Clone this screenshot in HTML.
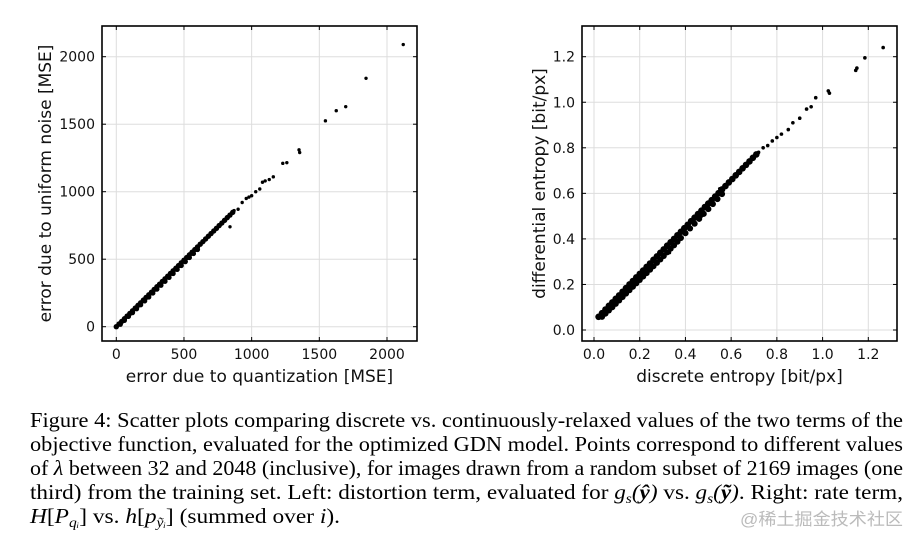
<!DOCTYPE html>
<html><head><meta charset="utf-8"><style>
html,body{margin:0;padding:0;background:#fff;}
svg{display:block;}
.tk{font-family:"DejaVu Sans","Liberation Sans",sans-serif;font-size:14px;fill:#111;}
.al{font-family:"DejaVu Sans","Liberation Sans",sans-serif;font-size:17px;fill:#111;}
.cap{font-family:"Liberation Serif",serif;font-size:21px;fill:#000;}
</style></head><body>
<svg id="fig" width="918" height="546" viewBox="0 0 918 546">
<g id="left"></g>
<g id="right"></g>
<g>
<text class="cap" x="30" y="427" textLength="873" lengthAdjust="spacingAndGlyphs">Figure 4: Scatter plots comparing discrete vs. continuously-relaxed values of the two terms of the</text>
<text class="cap" x="30" y="451" textLength="873" lengthAdjust="spacingAndGlyphs">objective function, evaluated for the optimized GDN model. Points correspond to different values</text>
<text class="cap" x="30" y="475" textLength="873" lengthAdjust="spacingAndGlyphs">of <tspan font-style="italic">λ</tspan> between 32 and 2048 (inclusive), for images drawn from a random subset of 2169 images (one</text>
<text class="cap" x="30" y="499" textLength="873" lengthAdjust="spacingAndGlyphs">third) from the training set. Left: distortion term, evaluated for <tspan font-style="italic">g<tspan font-size="14" dy="4">s</tspan><tspan dy="-4">(</tspan><tspan font-weight="bold">ŷ</tspan>)</tspan> vs. <tspan font-style="italic">g<tspan font-size="14" dy="4">s</tspan><tspan dy="-4">(</tspan><tspan font-weight="bold">ỹ</tspan>)</tspan>. Right: rate term,</text>
<text class="cap" x="30" y="523" textLength="310" lengthAdjust="spacingAndGlyphs"><tspan font-style="italic">H</tspan>[<tspan font-style="italic">P<tspan font-size="14" dy="4">qᵢ</tspan></tspan><tspan dy="-4">]</tspan> vs. <tspan font-style="italic">h</tspan>[<tspan font-style="italic">p<tspan font-size="14" dy="4">ỹᵢ</tspan></tspan><tspan dy="-4">]</tspan> (summed over <tspan font-style="italic">i</tspan>).</text>
<text x="740" y="525" textLength="163" lengthAdjust="spacingAndGlyphs" font-family="Liberation Sans, Noto Sans CJK SC, sans-serif" font-size="17" fill="#bbb">@稀土掘金技术社区</text>
</g>
</svg>
<script>
// ---- Left plot data ----
const leftTicks = [0, 500, 1000, 1500, 2000];
const leftTickLabels = ["0", "500", "1000", "1500", "2000"];
const leftX = [0,20,40,60,80,100,120,140,160,180,200,220,240,260,280,300,320,340,360,380,400,420,440,460,480,500,520,540,560,580,600,620,640,660,680,700,720,740,760,780,800,820,840,860];
const leftY = [0,20,39,59,79,98,118,138,158,177,197,217,236,256,276,296,315,335,355,374,394,414,433,453,473,493,512,532,552,571,591,611,630,650,670,690,709,729,749,768,788,808,827,847];
const leftXLo = [30,60,90,120,150,180,210,240,270,300,330,360,390,420,450,480,510,540,570,600];
const leftYLo = [18,47,76,104,133,162,191,220,249,278,307,336,365,394,424,453,482,512,542,572];
const leftXOut = [840,870,900,930,960,980,1000,1030,1060,1080,1100,1130,1160,1230,1260,1350,1355,1545,1625,1695,1845,2120];
const leftYOut = [740,860,870,920,950,960,970,1000,1020,1070,1080,1090,1110,1210,1215,1310,1290,1525,1600,1630,1840,2090];

// ---- Right plot data ----
const rightTicks = [0, 0.2, 0.4, 0.6, 0.8, 1.0, 1.2];
const rightTickLabels = ["0.0","0.2","0.4","0.6","0.8","1.0","1.2"];
const rightX = [0.02,0.035,0.05,0.065,0.08,0.095,0.11,0.125,0.14,0.155,0.17,0.185,0.2,0.215,0.23,0.245,0.26,0.275,0.29,0.305,0.32,0.335,0.35,0.365,0.38,0.395,0.41,0.425,0.44,0.455,0.47,0.485,0.5,0.515,0.53,0.545,0.56,0.575,0.59,0.605,0.62,0.635,0.65,0.665,0.68,0.695,0.71];
const rightY = [0.058,0.074,0.09,0.106,0.121,0.137,0.152,0.168,0.184,0.2,0.215,0.231,0.246,0.261,0.277,0.292,0.308,0.323,0.339,0.354,0.37,0.385,0.4,0.416,0.431,0.447,0.462,0.478,0.493,0.509,0.524,0.54,0.555,0.57,0.586,0.601,0.617,0.632,0.648,0.663,0.679,0.694,0.71,0.725,0.74,0.756,0.771];
const rightXLo = [0.035,0.05,0.065,0.08,0.095,0.11,0.125,0.14,0.155,0.17,0.185,0.2,0.215,0.23,0.245,0.26,0.275,0.29,0.305,0.32,0.335,0.35,0.365,0.38,0.4,0.42,0.44,0.46,0.48,0.5,0.52,0.54,0.56];
const rightYLo = [0.058,0.072,0.086,0.1,0.115,0.13,0.145,0.16,0.175,0.19,0.205,0.22,0.235,0.25,0.265,0.28,0.295,0.31,0.325,0.341,0.357,0.372,0.388,0.404,0.425,0.446,0.467,0.488,0.51,0.531,0.553,0.575,0.597];
const rightXOut = [0.72,0.74,0.76,0.78,0.8,0.82,0.85,0.87,0.9,0.93,0.95,0.97,1.025,1.03,1.145,1.15,1.185,1.265,0.62,0.55,0.56,0.47,0.33];
const rightYOut = [0.78,0.8,0.81,0.83,0.845,0.86,0.88,0.91,0.93,0.97,0.98,1.02,1.05,1.04,1.14,1.15,1.195,1.24,0.68,0.62,0.6,0.5,0.34];

const NS = "http://www.w3.org/2000/svg";
function mk(tag, attrs, parent){const e=document.createElementNS(NS,tag);for(const k in attrs)e.setAttribute(k,attrs[k]);parent.appendChild(e);return e;}

function drawPlot(g, box, xr, yr, ticks, labels, series, xlabel, ylabel, ylabX){
  const sx = v => box.x0 + (v - xr[0]) / (xr[1] - xr[0]) * (box.x1 - box.x0);
  const sy = v => box.y1 - (v - yr[0]) / (yr[1] - yr[0]) * (box.y1 - box.y0);
  ticks.forEach((t,i) => {
    const gx = mk('line',{x1:sx(t),x2:sx(t),y1:box.y0,y2:box.y1,stroke:'#ddd','stroke-width':1},g);
    
    
    const gy = mk('line',{x1:box.x0,x2:box.x1,y1:sy(t),y2:sy(t),stroke:'#ddd','stroke-width':1},g);
    
    
  });
  series.forEach(s => {
    for (let i=0;i<s[0].length;i++){
      const c = mk('circle',{cx:sx(s[0][i]),cy:sy(s[1][i]),r:s[2],fill:'#000'},g);
      
      
    }
  });
  ticks.forEach((t,i) => {
    const X=sx(t), Y=sy(t);
    mk('line',{x1:X,x2:X,y1:box.y1,y2:box.y1-4,stroke:'#000','stroke-width':1},g);
    mk('line',{x1:X,x2:X,y1:box.y0,y2:box.y0+4,stroke:'#000','stroke-width':1},g);
    mk('line',{x1:box.x0,x2:box.x0+4,y1:Y,y2:Y,stroke:'#000','stroke-width':1},g);
    mk('line',{x1:box.x1,x2:box.x1-4,y1:Y,y2:Y,stroke:'#000','stroke-width':1},g);
    const tx = mk('text',{x:X,y:box.y1+18,'text-anchor':'middle',class:'tk'},g);
    tx.textContent = labels[i];
    
    
    const ty = mk('text',{x:box.x0-7,y:Y+5,'text-anchor':'end',class:'tk'},g);
    ty.textContent = labels[i];
    
    
  });
  const fr = mk('rect',{x:box.x0,y:box.y0,width:box.x1-box.x0,height:box.y1-box.y0,fill:'none',stroke:'#000','stroke-width':1.6},g);
  
  
  const xl = mk('text',{x:(box.x0+box.x1)/2,y:382,'text-anchor':'middle',class:'al'},g);
  xl.textContent = xlabel;
  
  
  const yc = (box.y0+box.y1)/2;
  const yl = mk('text',{x:ylabX,y:yc,'text-anchor':'middle',class:'al',transform:`rotate(-90 ${ylabX} ${yc})`},g);
  yl.textContent = ylabel;
  
  
}

const lBox = {x0:102, x1:417, y0:26, y1:341};
const lpx = (387-116.3)/2000;
const lXr = [-(116.3-102)/lpx, (417-116.3)/lpx];
const lpy = (326.7-56.7)/2000;
const lYr = [-(341-326.7)/lpy, (326.7-26)/lpy];
drawPlot(document.getElementById('left'), lBox, lXr, lYr, leftTicks, leftTickLabels,
  [[leftX,leftY,2.7],[leftXLo,leftYLo,2.6],[leftXOut,leftYOut,1.7]],
  'error due to quantization [MSE]','error due to uniform noise [MSE]',51);

const rBox = {x0:582, x1:897, y0:26, y1:341};
const rpx = (868.3-594)/1.2;
const rXr = [-(594-582)/rpx, (897-594)/rpx];
const rpy = (330-56.7)/1.2;
const rYr = [-(341-330)/rpy, (330-26)/rpy];
drawPlot(document.getElementById('right'), rBox, rXr, rYr, rightTicks, rightTickLabels,
  [[rightX,rightY,3.3],[rightXLo,rightYLo,3.1],[rightXOut,rightYOut,1.8]],
  'discrete entropy [bit/px]','differential entropy [bit/px]',545);
</script>
</body></html>
